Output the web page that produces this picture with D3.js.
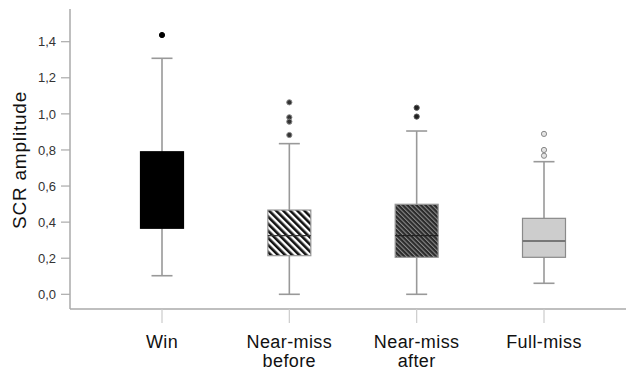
<!DOCTYPE html>
<html><head><meta charset="utf-8">
<script src="https://cdn.jsdelivr.net/npm/d3@7"></script>
<style>body{margin:0;background:#fff}</style>
</head><body>
<svg id="c" width="626" height="372"></svg>
<script>
const categories = [["Win"], ["Near-miss", "before"], ["Near-miss", "after"], ["Full-miss"]];
const lowerWhisker = [0.103, 0.0, 0.0, 0.061];
const q1 = [0.366, 0.214, 0.205, 0.205];
const median = [0.55, 0.325, 0.325, 0.295];
const q3 = [0.790, 0.467, 0.499, 0.421];
const upperWhisker = [1.308, 0.835, 0.905, 0.735];
const outliers = [[1.437], [1.064, 0.981, 0.957, 0.883], [1.034, 0.985], [0.889, 0.800, 0.768]];
const yTicks = [0, 0.2, 0.4, 0.6, 0.8, 1.0, 1.2, 1.4];

const svg = d3.select("#c");
const defs = svg.append("defs");
const p1 = defs.append("pattern").attr("id","h1").attr("patternUnits","userSpaceOnUse")
  .attr("width",5).attr("height",5).attr("patternTransform","rotate(-45)");
p1.append("rect").attr("width",5).attr("height",5).attr("fill","#fff");
p1.append("rect").attr("width",2.6).attr("height",5).attr("fill","#111");
const p2 = defs.append("pattern").attr("id","h2").attr("patternUnits","userSpaceOnUse")
  .attr("width",3.2).attr("height",3.2).attr("patternTransform","rotate(-45)");
p2.append("rect").attr("width",3.2).attr("height",3.2).attr("fill","#2a2a2a");
p2.append("rect").attr("width",1.1).attr("height",3.2).attr("fill","#8a8a8a");

const fills = ["#000", "url(#h1)", "url(#h2)", "#cdcdcd"];
const strokes = ["#000", "#999", "#999", "#8a8a8a"];
const medStroke = ["#000", "#333", "#222", "#777"];
const outFill = ["#000", "#333", "#222", "#e4e4e4"];
const outStroke = ["#000", "#888", "#555", "#888"];

const x = d3.scalePoint().domain(d3.range(4)).range([162, 544]);
const y = d3.scaleLinear().domain([0, 1.4]).range([294.3, 41.7]);
const axisColor = "#aaa";
const font = "Liberation Sans, Arial, sans-serif";

const gy = svg.append("g").attr("transform","translate(70,0)");
gy.append("line").attr("x1",0).attr("x2",0).attr("y1",9).attr("y2",309).attr("stroke",axisColor).attr("stroke-width",1.5);
yTicks.forEach(t => {
  gy.append("line").attr("x1",-9).attr("x2",0).attr("y1",y(t)).attr("y2",y(t)).attr("stroke",axisColor).attr("stroke-width",1.2);
  gy.append("text").attr("x",-14).attr("y",y(t)).attr("dy","0.36em").attr("text-anchor","end")
    .attr("font-family",font).attr("font-size",13).attr("fill","#333")
    .text(d3.format(".1f")(t).replace(".", ","));
});
svg.append("text").attr("transform","translate(26,160) rotate(-90)").attr("text-anchor","middle")
  .attr("font-family",font).attr("font-size",19).attr("letter-spacing",0.8).attr("fill","#111")
  .text("SCR amplitude");

svg.append("line").attr("x1",70).attr("x2",626).attr("y1",309).attr("y2",309).attr("stroke",axisColor).attr("stroke-width",1.5);
categories.forEach((c,i) => {
  svg.append("line").attr("x1",x(i)).attr("x2",x(i)).attr("y1",309).attr("y2",323).attr("stroke","#ccc").attr("stroke-width",1.2);
  const t = svg.append("text").attr("text-anchor","middle")
    .attr("font-family",font).attr("font-size",18).attr("letter-spacing",0.4).attr("fill","#111");
  c.forEach((line,j) => t.append("tspan").attr("x",x(i)).attr("y",348 + j*19).text(line));
});

const bw = 43;
d3.range(4).forEach(i => {
  const cx = x(i);
  const g = svg.append("g");
  g.append("line").attr("x1",cx).attr("x2",cx).attr("y1",y(upperWhisker[i])).attr("y2",y(q3[i])).attr("stroke","#999").attr("stroke-width",1.6);
  g.append("line").attr("x1",cx).attr("x2",cx).attr("y1",y(q1[i])).attr("y2",y(lowerWhisker[i])).attr("stroke","#999").attr("stroke-width",1.6);
  [upperWhisker[i], lowerWhisker[i]].forEach(v => {
    g.append("line").attr("x1",cx-10.5).attr("x2",cx+10.5).attr("y1",y(v)).attr("y2",y(v)).attr("stroke","#999").attr("stroke-width",1.6);
  });
  g.append("rect").attr("x",cx-bw/2).attr("y",y(q3[i])).attr("width",bw).attr("height",y(q1[i])-y(q3[i]))
    .attr("fill",fills[i]).attr("stroke",strokes[i]).attr("stroke-width",1.2);
  g.append("line").attr("x1",cx-bw/2).attr("x2",cx+bw/2).attr("y1",y(median[i])).attr("y2",y(median[i]))
    .attr("stroke",medStroke[i]).attr("stroke-width",i===3?2:1.4);
  outliers[i].forEach(v => {
    g.append("circle").attr("cx",cx).attr("cy",y(v)).attr("r",2.6)
      .attr("fill",outFill[i]).attr("stroke",outStroke[i]).attr("stroke-width",1);
  });
});
</script>
</body></html>
